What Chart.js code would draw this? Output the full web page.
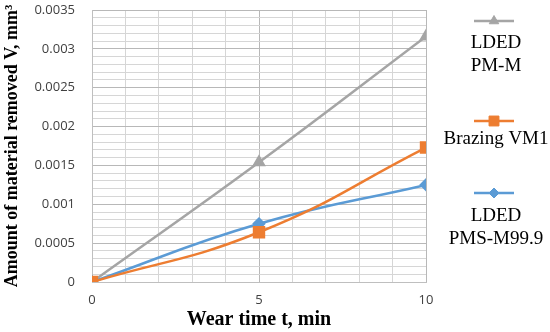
<!DOCTYPE html>
<html>
<head>
<meta charset="utf-8">
<script src="https://cdn.jsdelivr.net/npm/chart.js@4.4.1/dist/chart.umd.min.js"></script>
<style>
  html, body { margin: 0; padding: 0; background: #fff; }
  #wrap { position: relative; width: 550px; height: 332px; }
</style>
</head>
<body>
<div id="wrap"><canvas id="wearChart" width="550" height="332"></canvas></div>
<script>
// --- data ---
const wearTimes = [0, 5, 10];
const ldedPmM = [0, 0.00154, 0.00316];
const brazingVm1 = [0, 0.00064, 0.00173];
const ldedPmsM999 = [0, 0.00075, 0.00125];
const seriesNames = [['LDED', 'PM-M'], ['Brazing VM1'], ['LDED', 'PMS-M99.9']];
const xTickLabels = [0, 5, 10];
const yTickLabels = [0, 0.0005, 0.001, 0.0015, 0.002, 0.0025, 0.003, 0.0035];

const toPoints = ys => wearTimes.map((t, i) => ({ x: t, y: ys[i] }));

// legend drawn on the right: sample line + marker above the (multi-line) name
const sideLegend = {
    id: 'sideLegend',
    afterDraw(chart) {
        const ctx = chart.ctx;
        const cx = 494;
        const rows = [
            { lineY: 21, textY: [43, 66] },
            { lineY: 121, textY: [139] },
            { lineY: 193, textY: [216, 239] }
        ];
        chart.data.datasets.forEach((ds, i) => {
            const r = rows[i];
            ctx.save();
            ctx.strokeStyle = ds.borderColor;
            ctx.fillStyle = ds.backgroundColor;
            ctx.lineWidth = 2.5;
            ctx.beginPath();
            ctx.moveTo(cx - 20, r.lineY);
            ctx.lineTo(cx + 20, r.lineY);
            ctx.stroke();
            ctx.lineWidth = 1;
            Chart.helpers.drawPoint(ctx, {
                pointStyle: ds.pointStyle, radius: ds.pointRadius, borderWidth: 1, rotation: 0
            }, cx, r.lineY);
            ctx.fillStyle = '#000';
            ctx.font = '19px "Liberation Serif", serif';
            ctx.textAlign = 'center';
            ctx.textBaseline = 'middle';
            seriesNames[i].forEach((line, j) => ctx.fillText(line, cx + 2, r.textY[j]));
            ctx.restore();
        });
    }
};

const isMajorY = v => Math.round(v * 10000) % 5 === 0;
const isMajorX = v => Math.round(v) % 5 === 0;

new Chart(document.getElementById('wearChart'), {
    type: 'line',
    data: {
        datasets: [
            {
                label: 'LDED PM-M',
                data: toPoints(ldedPmM),
                borderColor: '#a5a5a5',
                backgroundColor: '#a5a5a5',
                pointStyle: 'triangle',
                pointRadius: 5.5,
                borderWidth: 2.5,
                tension: 0.45,
                order: 2
            },
            {
                label: 'Brazing VM1',
                data: toPoints(brazingVm1),
                borderColor: '#ed7d31',
                backgroundColor: '#ed7d31',
                pointStyle: 'rect',
                pointRadius: 7,
                borderWidth: 2.5,
                tension: 0.45,
                order: 0
            },
            {
                label: 'LDED PMS-M99.9',
                data: toPoints(ldedPmsM999),
                borderColor: '#5b9bd5',
                backgroundColor: '#5b9bd5',
                pointStyle: 'rectRot',
                pointRadius: 5,
                borderWidth: 2.5,
                tension: 0.45,
                order: 1
            }
        ]
    },
    options: {
        responsive: false,
        animation: false,
        layout: { padding: { top: 10, right: 124, left: 0, bottom: 0 } },
        scales: {
            x: {
                type: 'linear',
                min: 0,
                max: 10,
                afterFit: s => { s.height = 50; s.paddingLeft = 0; s.paddingRight = 0; },
                border: { color: '#bfbfbf' },
                grid: {
                    drawTicks: false,
                    color: c => isMajorX(c.tick.value) ? '#b8b8b8' : '#d6d6d6'
                },
                ticks: {
                    stepSize: 1,
                    autoSkip: false,
                    maxRotation: 0,
                    padding: 10,
                    color: '#404040',
                    font: { family: '"Open Sans", sans-serif', size: 13 },
                    callback: v => xTickLabels.includes(v) ? String(v) : ''
                },
                title: {
                    display: true,
                    text: 'Wear time t, min',
                    color: '#000',
                    padding: { top: 0, bottom: 0 },
                    font: { family: '"Liberation Serif", serif', size: 20, weight: 'bold' }
                }
            },
            y: {
                min: 0,
                max: 0.0035,
                afterFit: s => { s.width = 92; s.paddingTop = 0; s.paddingBottom = 0; },
                border: { color: '#bfbfbf' },
                grid: {
                    drawTicks: false,
                    color: c => isMajorY(c.tick.value) ? '#b8b8b8' : '#d6d6d6'
                },
                ticks: {
                    stepSize: 0.0001,
                    autoSkip: false,
                    padding: 17,
                    color: '#404040',
                    font: { family: '"Open Sans", sans-serif', size: 13 },
                    callback: v => {
                        const r = Math.round(v * 10000) / 10000;
                        return yTickLabels.includes(r) ? String(r) : '';
                    }
                },
                title: {
                    display: true,
                    text: 'Amount of material removed V, mm³',
                    color: '#000',
                    padding: { top: 2, bottom: 0 },
                    font: { family: '"Liberation Serif", serif', size: 18, weight: 'bold' }
                }
            }
        },
        plugins: {
            legend: { display: false },
            tooltip: { enabled: false }
        }
    },
    plugins: [sideLegend]
});
</script>
</body>
</html>
